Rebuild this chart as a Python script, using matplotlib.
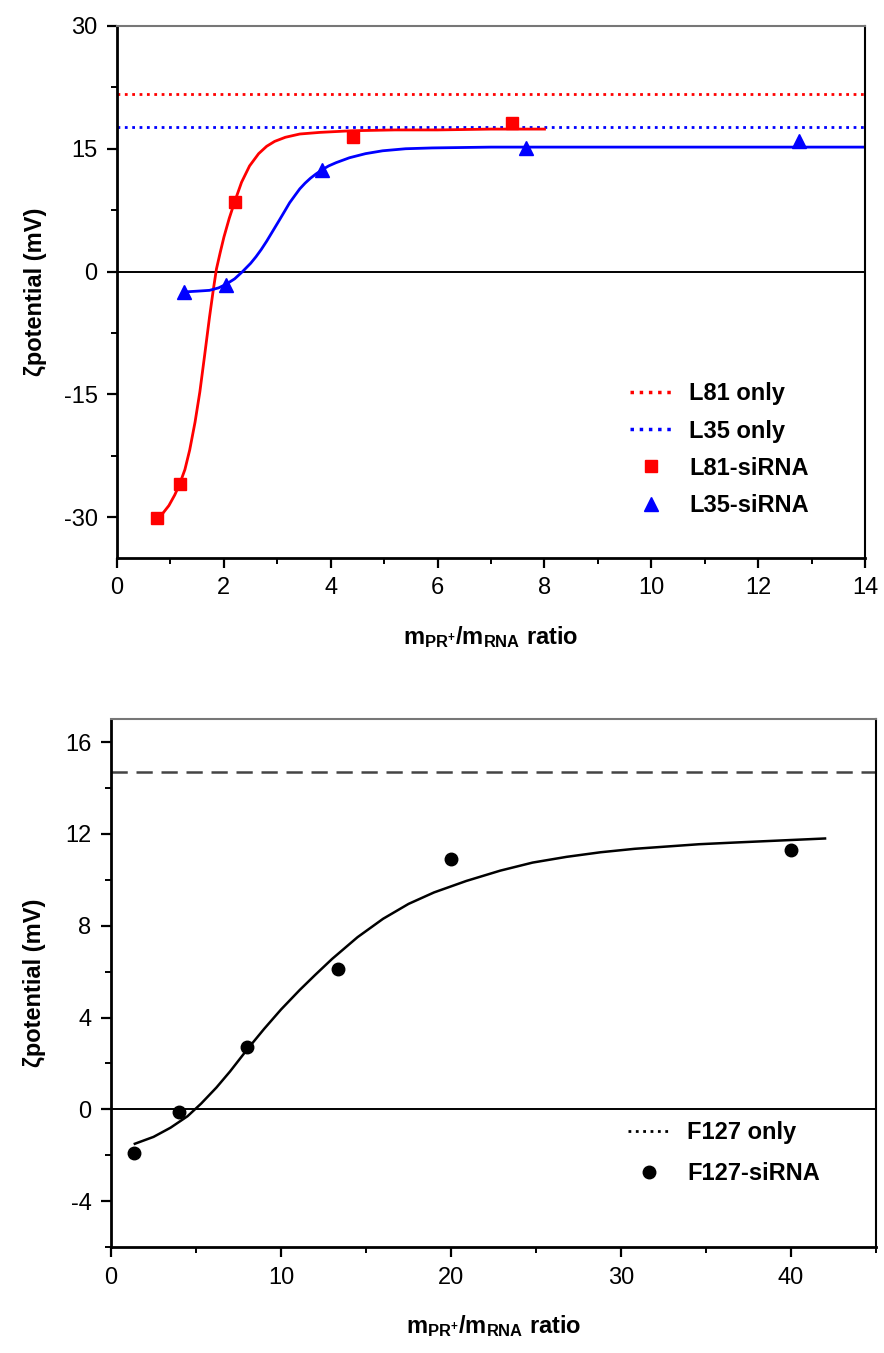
import numpy as np
import matplotlib
matplotlib.use("Agg")
import matplotlib.pyplot as plt
from matplotlib.lines import Line2D
from matplotlib.ticker import MultipleLocator

plt.rcParams['font.family'] = ['Liberation Sans', 'DejaVu Sans']
plt.rcParams['axes.unicode_minus'] = False
plt.rcParams['mathtext.fontset'] = 'custom'
plt.rcParams['mathtext.rm'] = 'Liberation Sans:bold'
plt.rcParams['mathtext.it'] = 'Liberation Sans:bold'
plt.rcParams['mathtext.bf'] = 'Liberation Sans:bold'

# ---- top panel data ----
l81_x = [0.74, 1.17, 2.20, 4.41, 7.39]
l81_y = [-30.1, -26.0, 8.5, 16.4, 18.2]
l35_x = [1.25, 2.03, 3.83, 7.65, 12.77]
l35_y = [-2.5, -1.7, 12.4, 15.1, 15.9]
l81_only = 21.7
l35_only = 17.7

# fitted curves, traced point by point
l81_fit_x = [0.74, 0.85, 0.97, 1.08, 1.17, 1.27, 1.36, 1.46, 1.55, 1.64, 1.73, 1.80,
             1.86, 1.93, 2.00, 2.10, 2.20, 2.33, 2.48, 2.65, 2.80, 2.95, 3.15, 3.42, 3.80,
             4.40, 5.20, 6.00, 7.00, 8.00]
l81_fit_y = [-30.1, -29.6, -28.6, -27.3, -26.0, -24.2, -21.8, -18.4, -14.7, -10.2, -5.6, -2.3,
             0.3, 2.3, 4.2, 6.5, 8.5, 10.9, 12.9, 14.4, 15.3, 15.9, 16.4, 16.8, 17.0,
             17.2, 17.3, 17.3, 17.4, 17.4]
l35_fit_x = [1.25, 1.50, 1.73, 1.90, 2.03, 2.20, 2.35, 2.50, 2.60, 2.70, 2.80, 2.92, 3.04,
             3.14, 3.23, 3.33, 3.42, 3.52, 3.62, 3.72, 3.83, 3.96, 4.10, 4.35, 4.65,
             4.97, 5.40, 5.90, 7.00, 8.50, 10.0, 12.0, 14.0]
l35_fit_y = [-2.5, -2.4, -2.3, -2.0, -1.6, -0.9, 0.0, 1.0, 1.8, 2.7, 3.7, 5.0, 6.3,
             7.4, 8.4, 9.3, 10.1, 10.8, 11.4, 11.9, 12.4, 12.9, 13.3, 13.9, 14.4,
             14.75, 15.0, 15.1, 15.2, 15.2, 15.2, 15.2, 15.2]

# ---- bottom panel data ----
f127_x = [1.33, 4.0, 8.0, 13.33, 20.0, 40.0]
f127_y = [-1.9, -0.13, 2.7, 6.1, 10.9, 11.3]
f127_only = 14.7
f127_fit_x = [1.4, 2.5, 3.5, 4.5, 5.3, 6.2, 7.0, 8.0, 9.0, 10.0, 11.1, 12.0, 13.0, 14.5,
              16.0, 17.5, 19.0, 20.9, 22.9, 24.8, 26.8, 28.8, 30.8, 32.7, 34.6, 36.6, 39.0, 42.0]
f127_fit_y = [-1.5, -1.2, -0.8, -0.3, 0.25, 0.95, 1.65, 2.6, 3.5, 4.35, 5.2, 5.85, 6.55, 7.5,
              8.3, 8.95, 9.45, 9.95, 10.4, 10.75, 11.0, 11.2, 11.35, 11.45, 11.55, 11.62, 11.7, 11.8]

fig = plt.figure(figsize=(8.84, 13.53), dpi=100)
ax1 = fig.add_axes([0.1324, 0.5876, 0.8462, 0.3932])
ax2 = fig.add_axes([0.1256, 0.0783, 0.8654, 0.3902])


def style_axes(ax):
    for side in ['left', 'bottom']:
        ax.spines[side].set_linewidth(2.0)
        ax.spines[side].set_color('black')
    for side in ['top', 'right']:
        ax.spines[side].set_linewidth(1.5)
    ax.spines['top'].set_color('#777777')
    ax.spines['right'].set_color('black')
    ax.tick_params(which='major', direction='out', length=7, width=1.6,
                   labelsize=17, pad=7, top=False, right=False)
    ax.tick_params(which='minor', direction='out', length=4, width=1.4,
                   top=False, right=False)
    ax.axhline(0, color='black', lw=1.4, zorder=1)


xlabel = r'$\mathregular{m_{PR^{+}}/m_{RNA}}$ ratio'
leg_kw = dict(loc='upper left', frameon=False, borderpad=0, borderaxespad=0,
              prop={'size': 17, 'weight': 'bold'}, handlelength=1.78,
              handletextpad=0.72)

# top panel
ax1.axhline(l81_only, color='red', ls=':', lw=2.0, zorder=1)
ax1.axhline(l35_only, color='blue', ls=':', lw=2.0, zorder=1)
ax1.plot(l81_fit_x, l81_fit_y, color='red', lw=2.0, zorder=2)
ax1.plot(l35_fit_x, l35_fit_y, color='blue', lw=2.0, zorder=2)
ax1.plot(l81_x, l81_y, 's', color='red', ms=9, zorder=3)
ax1.plot(l35_x, l35_y, '^', color='blue', ms=10, zorder=3)
ax1.set_xlim(0, 14)
ax1.set_ylim(-35, 30)
ax1.xaxis.set_major_locator(MultipleLocator(2))
ax1.xaxis.set_minor_locator(MultipleLocator(1))
ax1.yaxis.set_major_locator(MultipleLocator(15))
ax1.yaxis.set_minor_locator(MultipleLocator(7.5))
style_axes(ax1)
ax1.set_xlabel(xlabel, fontsize=17, fontweight='bold', labelpad=18)
ax1.set_ylabel('ζpotential (mV)', fontsize=17, fontweight='bold', labelpad=12)

h1 = [Line2D([], [], color='red', ls=':', lw=2.5),
      Line2D([], [], color='blue', ls=':', lw=2.5),
      Line2D([], [], color='red', marker='s', ls='none', ms=9),
      Line2D([], [], color='blue', marker='^', ls='none', ms=10)]
ax1.legend(h1, ['L81 only', 'L35 only', 'L81-siRNA', 'L35-siRNA'],
           bbox_to_anchor=(0.686, 0.33), labelspacing=0.6, **leg_kw)

# bottom panel
ax2.axhline(f127_only, color='#444444', ls=(0, (6.5, 3.5)), lw=1.8, zorder=1)
ax2.plot(f127_fit_x, f127_fit_y, color='black', lw=1.8, zorder=2)
ax2.plot(f127_x, f127_y, 'o', color='black', ms=9, zorder=3)
ax2.set_xlim(0, 45)
ax2.set_ylim(-6, 17)
ax2.xaxis.set_major_locator(MultipleLocator(10))
ax2.xaxis.set_minor_locator(MultipleLocator(5))
ax2.yaxis.set_major_locator(MultipleLocator(4))
ax2.yaxis.set_minor_locator(MultipleLocator(2))
style_axes(ax2)
ax2.set_xlabel(xlabel, fontsize=17, fontweight='bold', labelpad=18)
ax2.set_ylabel('ζpotential (mV)', fontsize=17, fontweight='bold', labelpad=14)

h2 = [Line2D([], [], color='black', ls=':', lw=2.0),
      Line2D([], [], color='black', marker='o', ls='none', ms=9)]
ax2.legend(h2, ['F127 only', 'F127-siRNA'],
           bbox_to_anchor=(0.676, 0.239), labelspacing=0.78, **leg_kw)

plt.savefig('out.png', dpi=100)
